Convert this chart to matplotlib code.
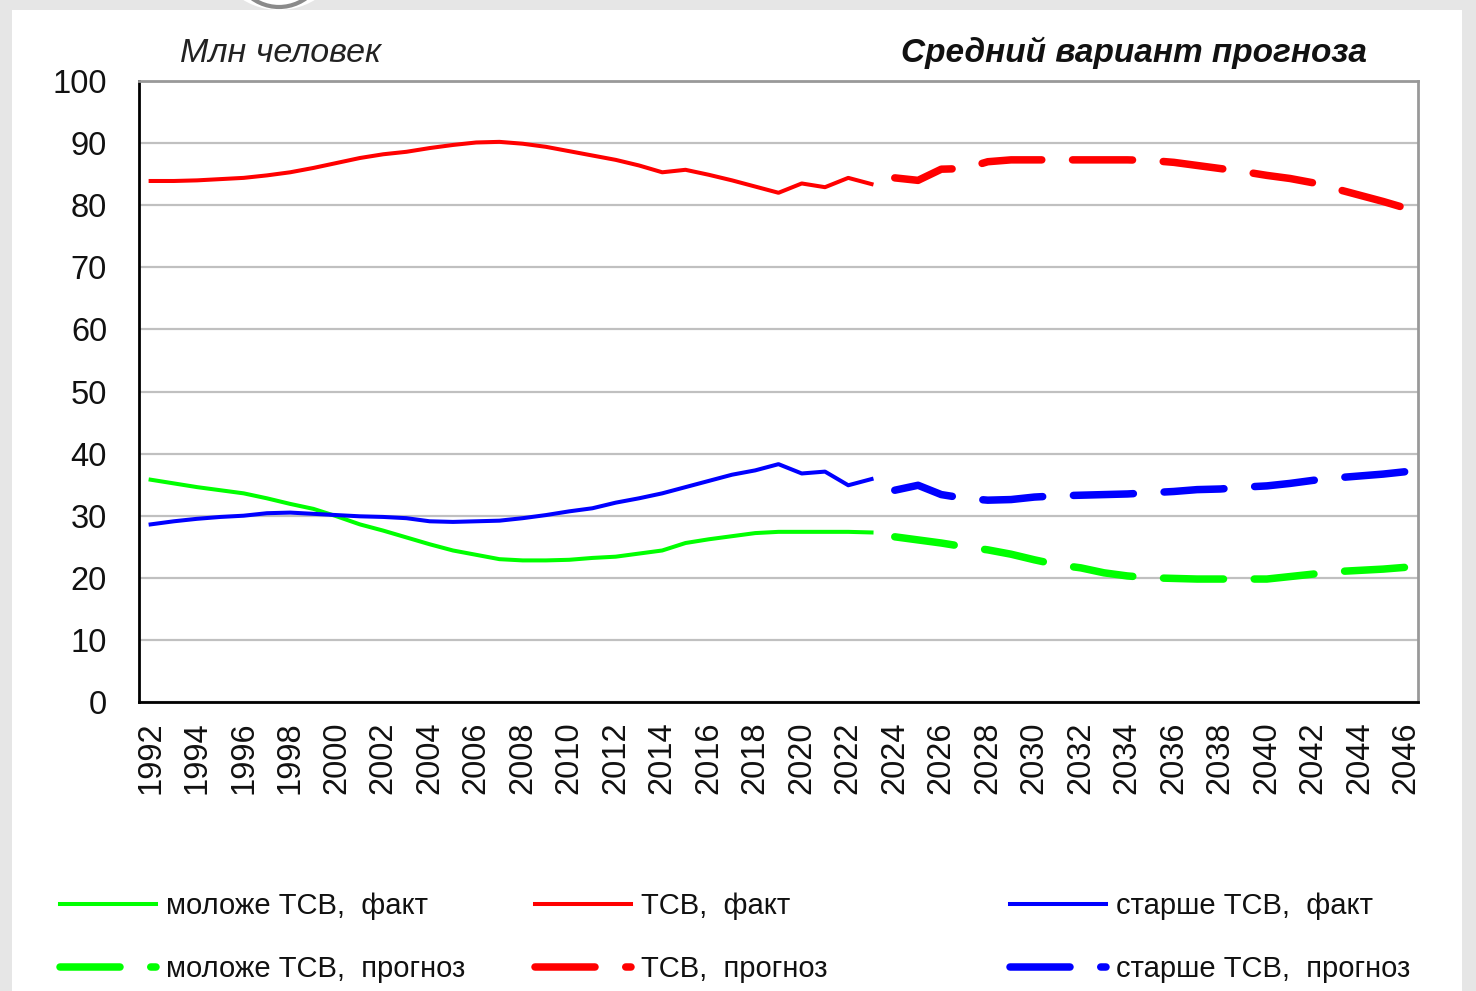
import matplotlib.pyplot as plt
from matplotlib.patches import Rectangle, Ellipse
from matplotlib.lines import Line2D

plt.rcParams['font.family'] = ['Liberation Sans', 'DejaVu Sans']

# годы: факт и прогноз
years_fact = list(range(1992, 2024))
years_fc = list(range(2024, 2047))

# моложе трудоспособного возраста, млн человек
young_fact = [35.8, 35.2, 34.6, 34.1, 33.6, 32.8, 31.9, 31.1, 29.9, 28.6,
              27.6, 26.5, 25.4, 24.4, 23.7, 23.0, 22.8, 22.8, 22.9, 23.2,
              23.4, 23.9, 24.4, 25.6, 26.2, 26.7, 27.2, 27.4, 27.4, 27.4,
              27.4, 27.3]
young_fc = [26.6, 26.1, 25.6, 25.0, 24.5, 23.8, 22.9, 22.1, 21.6, 20.8,
            20.3, 20.0, 19.9, 19.8, 19.8, 19.8, 19.8, 20.2, 20.6, 21.0,
            21.2, 21.4, 21.7]

# трудоспособный возраст
work_fact = [83.9, 83.9, 84.0, 84.2, 84.4, 84.8, 85.3, 86.0, 86.8, 87.6,
             88.2, 88.6, 89.2, 89.7, 90.1, 90.2, 89.9, 89.4, 88.7, 88.0,
             87.3, 86.4, 85.3, 85.7, 84.9, 84.0, 83.0, 82.0, 83.5, 82.9,
             84.4, 83.4]
work_fc = [84.4, 84.0, 85.8, 85.9, 87.0, 87.3, 87.3, 87.3, 87.3, 87.3,
           87.3, 87.2, 86.9, 86.4, 85.9, 85.4, 84.8, 84.3, 83.6, 82.6,
           81.6, 80.6, 79.5]

# старше трудоспособного возраста
old_fact = [28.6, 29.1, 29.5, 29.8, 30.0, 30.4, 30.5, 30.3, 30.1, 29.9,
            29.8, 29.6, 29.1, 29.0, 29.1, 29.2, 29.6, 30.1, 30.7, 31.2,
            32.1, 32.8, 33.6, 34.6, 35.6, 36.6, 37.3, 38.3, 36.8, 37.1,
            34.9, 35.9]
old_fc = [34.1, 34.9, 33.4, 32.8, 32.5, 32.6, 33.0, 33.2, 33.3, 33.4,
          33.5, 33.7, 33.9, 34.2, 34.3, 34.6, 34.8, 35.2, 35.7, 36.1,
          36.4, 36.7, 37.1]

green = '#00ff00'
red = '#ff0000'
blue = '#0000ff'

fig = plt.figure(figsize=(14.76, 9.91), dpi=100, facecolor='#e6e6e6')
# белая подложка
fig.patches.append(Rectangle((12 / 1476, 0), 1450 / 1476, 981 / 991,
                             transform=fig.transFigure, facecolor='white',
                             edgecolor='none', zorder=-2))
fig.patches.append(Ellipse((279 / 1476, 1 + 55 / 991), 134 / 1476, 130 / 991,
                           transform=fig.transFigure, facecolor='white',
                           edgecolor='none', zorder=-1))
fig.patches.append(Ellipse((279 / 1476, 1 + 48 / 991), 100 / 1476, 110 / 991,
                           transform=fig.transFigure, facecolor='none',
                           edgecolor='#8a8a8a', linewidth=3, zorder=-1))

ax = fig.add_axes([139 / 1476, 1 - 702 / 991, 1279 / 1476, 621 / 991])
ax.set_zorder(3)
ax.set_facecolor('white')

lw_s = 2.9
lw_d = 5.4
dash = (8.0, 4.1)

ax.plot(years_fact, young_fact, color=green, lw=lw_s, zorder=3)
ax.plot(years_fact, work_fact, color=red, lw=lw_s, zorder=3)
ax.plot(years_fact, old_fact, color=blue, lw=lw_s, zorder=3)
for vals, c in [(young_fc, green), (work_fc, red), (old_fc, blue)]:
    ax.plot(years_fc, vals, color=c, lw=lw_d, dashes=dash,
            dash_capstyle='round', solid_capstyle='round', zorder=3)

ax.set_xlim(1991.5, 2046.5)
ax.set_ylim(0, 100)
ax.set_yticks(range(0, 101, 10))
ax.set_xticks(range(1992, 2047, 2))
ax.set_xticklabels([str(y) for y in range(1992, 2047, 2)], rotation=90)
ax.tick_params(axis='y', length=0, pad=23, labelsize=23.5, colors='#111111')
ax.tick_params(axis='x', length=0, pad=14, labelsize=23.5, colors='#111111')
for lab in ax.get_xticklabels():
    lab.set_verticalalignment('top')

ax.grid(axis='y', color='#c0c0c0', lw=1.6)
ax.set_axisbelow(True)
ax.spines['left'].set_color('#000000')
ax.spines['bottom'].set_color('#000000')
ax.spines['left'].set_linewidth(2)
ax.spines['bottom'].set_linewidth(2)
ax.spines['top'].set_color('#999999')
ax.spines['right'].set_color('#999999')
ax.spines['top'].set_linewidth(2)
ax.spines['right'].set_linewidth(2)

fig.text(180 / 1476, 1 - 53 / 991, 'Млн человек', style='italic',
         fontsize=24.5, color='#222222', va='center', ha='left')
fig.text(1367 / 1476, 1 - 53 / 991, 'Средний вариант прогноза',
         style='italic', weight='bold', fontsize=24, color='#111111',
         va='center', ha='right')

# легенда: три группы по два элемента
groups = [
    (60, green, 'моложе ТСВ,  факт', 'моложе ТСВ,  прогноз'),
    (535, red, 'ТСВ,  факт', 'ТСВ,  прогноз'),
    (1010, blue, 'старше ТСВ,  факт', 'старше ТСВ,  прогноз'),
]
for x0, c, l1, l2 in groups:
    h1 = Line2D([], [], color=c, lw=lw_s)
    h2 = Line2D([], [], color=c, lw=lw_d, dashes=dash,
                dash_capstyle='round')
    fig.legend([h1, h2], [l1, l2], loc='upper left',
               bbox_to_anchor=(x0 / 1476, 1 - 892 / 991),
               frameon=False, fontsize=21, handlelength=3.3,
               handletextpad=0.33, labelspacing=1.2, borderpad=0,
               borderaxespad=0, labelcolor='#111111')

fig.savefig('out.png', dpi=100, facecolor=fig.get_facecolor())
